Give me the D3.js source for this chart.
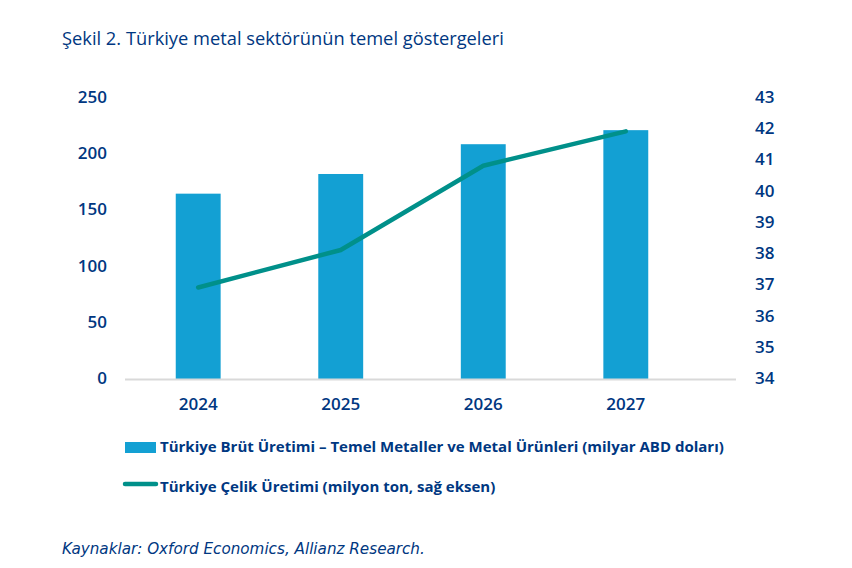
<!DOCTYPE html>
<html>
<head>
<meta charset="utf-8">
<script src="https://cdn.jsdelivr.net/npm/d3@7"></script>
<style>
  body { margin: 0; background: #fff; }
  text { font-family: "Open Sans", "Noto Sans", sans-serif; fill: #003781; }
</style>
</head>
<body>
<svg id="chart" width="852" height="568"></svg>
<script>
// data
var years = ["2024", "2025", "2026", "2027"];
var grossOutput = [164, 181.5, 208, 220.5];   // milyar ABD doları, left axis
var steelOutput = [36.9, 38.1, 40.8, 41.9];   // milyon ton, right axis
var leftTicks = [0, 50, 100, 150, 200, 250];
var rightTicks = [34, 35, 36, 37, 38, 39, 40, 41, 42, 43];

var navy = "#003781";
var barColor = "#13a0d3";
var lineColor = "#00908a";

var svg = d3.select("#chart");

// plot area
var plotTop = 97, plotBottom = 378;
var x = d3.scaleBand().domain(years).range([127, 697]).paddingInner(0.685).paddingOuter(0.342);
var yL = d3.scaleLinear().domain([0, 250]).range([plotBottom, plotTop]);
var yR = d3.scaleLinear().domain([34, 43]).range([plotBottom, plotTop]);

// title
svg.append("text")
    .attr("x", 62).attr("y", 45)
    .style("font-size", "18.3px")
    .text("Şekil 2. Türkiye metal sektörünün temel göstergeleri");

// bars
svg.selectAll("rect.bar")
    .data(years)
    .enter().append("rect")
    .attr("class", "bar")
    .attr("x", function(d) { return x(d); })
    .attr("width", x.bandwidth())
    .attr("y", function(d, i) { return yL(grossOutput[i]); })
    .attr("height", function(d, i) { return plotBottom - yL(grossOutput[i]) + 1; })
    .attr("fill", barColor);

// baseline
svg.append("line")
    .attr("x1", 125).attr("x2", 736)
    .attr("y1", plotBottom + 1.5).attr("y2", plotBottom + 1.5)
    .attr("stroke", "#d9d9d9").attr("stroke-width", 2);

// left axis
var leftAxis = svg.append("g")
    .attr("transform", "translate(107,0)")
    .call(d3.axisLeft(yL).tickValues(leftTicks).tickSize(0).tickPadding(0));
leftAxis.select(".domain").remove();
leftAxis.selectAll("text")
    .style("font-size", "17px").style("font-weight", 600).attr("fill", navy);

// right axis
var rightAxis = svg.append("g")
    .attr("transform", "translate(755,0)")
    .call(d3.axisRight(yR).tickValues(rightTicks).tickSize(0).tickPadding(0));
rightAxis.select(".domain").remove();
rightAxis.selectAll("text")
    .style("font-size", "17px").style("font-weight", 600).attr("fill", navy);

// category labels
svg.selectAll("text.year")
    .data(years)
    .enter().append("text")
    .attr("class", "year")
    .attr("x", function(d) { return x(d) + x.bandwidth() / 2; })
    .attr("y", 410)
    .attr("text-anchor", "middle")
    .style("font-size", "17px").style("font-weight", 600)
    .text(function(d) { return d; });

// steel line
var line = d3.line()
    .x(function(d, i) { return x(years[i]) + x.bandwidth() / 2; })
    .y(function(d) { return yR(d); });
svg.append("path")
    .datum(steelOutput)
    .attr("d", line)
    .attr("fill", "none")
    .attr("stroke", lineColor)
    .attr("stroke-width", 4.5)
    .attr("stroke-linecap", "round")
    .attr("stroke-linejoin", "round");

// legend
svg.append("rect")
    .attr("x", 125).attr("y", 442).attr("width", 31).attr("height", 11)
    .attr("fill", barColor);
svg.append("text")
    .attr("x", 160).attr("y", 452)
    .style("font-size", "15px").style("font-weight", 700)
    .text("Türkiye Brüt Üretimi – Temel Metaller ve Metal Ürünleri (milyar ABD doları)");
svg.append("line")
    .attr("x1", 125).attr("x2", 156).attr("y1", 484).attr("y2", 484)
    .attr("stroke", lineColor).attr("stroke-width", 4.5).attr("stroke-linecap", "round");
svg.append("text")
    .attr("x", 160).attr("y", 492)
    .style("font-size", "15px").style("font-weight", 700)
    .text("Türkiye Çelik Üretimi (milyon ton, sağ eksen)");

// source
svg.append("text")
    .attr("x", 62).attr("y", 554)
    .style("font-family", "'DejaVu Sans', sans-serif")
    .style("font-size", "15.2px").style("font-style", "italic")
    .text("Kaynaklar: Oxford Economics, Allianz Research.");
</script>
</body>
</html>
